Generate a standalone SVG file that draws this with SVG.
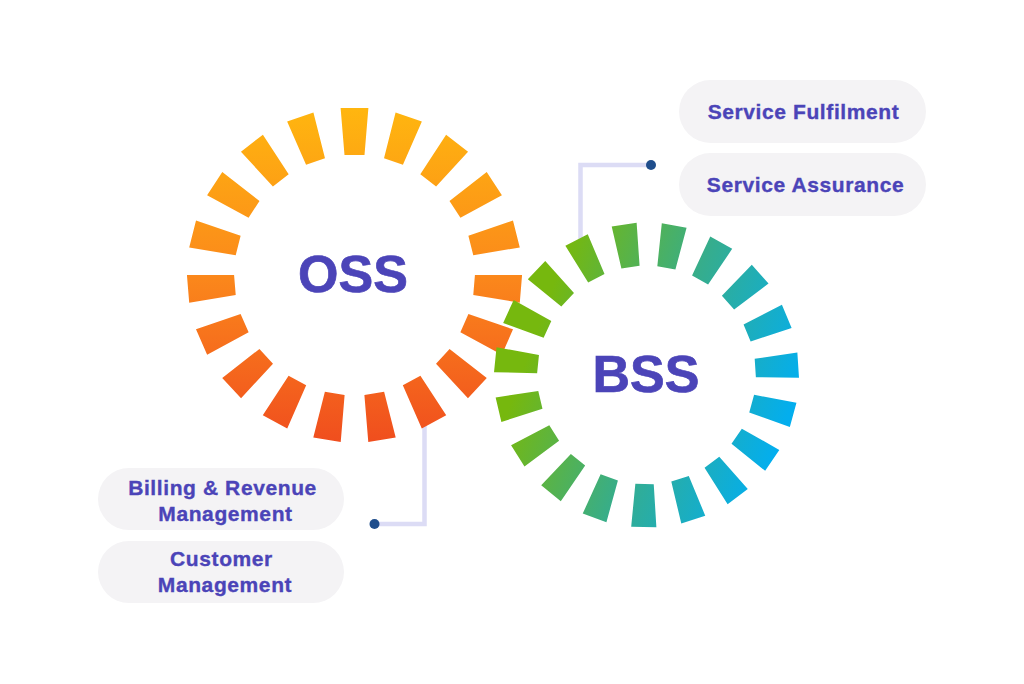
<svg xmlns="http://www.w3.org/2000/svg" width="1024" height="684" viewBox="0 0 1024 684">
  <style>
    .pill{fill:#f4f3f5}
    .lbl{font-family:"Liberation Sans",Arial,sans-serif;font-weight:700;font-size:21px;fill:#4b44b8;stroke:#4b44b8;stroke-width:.35px;text-anchor:middle;letter-spacing:.6px}
    .big{font-family:"Liberation Sans",Arial,sans-serif;font-weight:700;font-size:52px;fill:#4b44b8;stroke:#4b44b8;stroke-width:.7px;text-anchor:middle}
    .wire{fill:none;stroke:#dcdcf5;stroke-width:4.5}
    .dot{fill:#1f4e8c}
  </style>
  <defs>
    <linearGradient id="gOss" gradientUnits="userSpaceOnUse" x1="354" y1="108" x2="354" y2="442">
      <stop offset="0" stop-color="#ffb60f"/>
      <stop offset=".5" stop-color="#fb881b"/>
      <stop offset="1" stop-color="#f04e1e"/>
    </linearGradient>
    <linearGradient id="gBss" gradientUnits="userSpaceOnUse" x1="535" y1="335" x2="785" y2="425">
      <stop offset="0" stop-color="#76b80e"/>
      <stop offset=".5" stop-color="#36ad8c"/>
      <stop offset="1" stop-color="#03aeee"/>
    </linearGradient>
    <polygon id="segO" points="340.6,108 368.4,108 364.5,155 344.5,155"/>
    <polygon id="segB" points="633.900,223 659.100,223 655.700,266 637.300,266"/>
    <clipPath id="cOss">
      <use href="#segO"/>
      <use href="#segO" transform="rotate(18.947 354.5 275)"/>
      <use href="#segO" transform="rotate(37.895 354.5 275)"/>
      <use href="#segO" transform="rotate(56.842 354.5 275)"/>
      <use href="#segO" transform="rotate(75.789 354.5 275)"/>
      <use href="#segO" transform="rotate(94.737 354.5 275)"/>
      <use href="#segO" transform="rotate(113.684 354.5 275)"/>
      <use href="#segO" transform="rotate(132.632 354.5 275)"/>
      <use href="#segO" transform="rotate(151.579 354.5 275)"/>
      <use href="#segO" transform="rotate(170.526 354.5 275)"/>
      <use href="#segO" transform="rotate(189.474 354.5 275)"/>
      <use href="#segO" transform="rotate(208.421 354.5 275)"/>
      <use href="#segO" transform="rotate(227.368 354.5 275)"/>
      <use href="#segO" transform="rotate(246.316 354.5 275)"/>
      <use href="#segO" transform="rotate(265.263 354.5 275)"/>
      <use href="#segO" transform="rotate(284.211 354.5 275)"/>
      <use href="#segO" transform="rotate(303.158 354.5 275)"/>
      <use href="#segO" transform="rotate(322.105 354.5 275)"/>
      <use href="#segO" transform="rotate(341.053 354.5 275)"/>
    </clipPath>
    <clipPath id="cBss">
      <use href="#segB" transform="rotate(10.5 646.5 375)"/>
      <use href="#segB" transform="rotate(29.447 646.5 375)"/>
      <use href="#segB" transform="rotate(48.395 646.5 375)"/>
      <use href="#segB" transform="rotate(67.342 646.5 375)"/>
      <use href="#segB" transform="rotate(86.289 646.5 375)"/>
      <use href="#segB" transform="rotate(105.237 646.5 375)"/>
      <use href="#segB" transform="rotate(124.184 646.5 375)"/>
      <use href="#segB" transform="rotate(143.132 646.5 375)"/>
      <use href="#segB" transform="rotate(162.079 646.5 375)"/>
      <use href="#segB" transform="rotate(181.026 646.5 375)"/>
      <use href="#segB" transform="rotate(199.974 646.5 375)"/>
      <use href="#segB" transform="rotate(218.921 646.5 375)"/>
      <use href="#segB" transform="rotate(237.868 646.5 375)"/>
      <use href="#segB" transform="rotate(256.816 646.5 375)"/>
      <use href="#segB" transform="rotate(275.763 646.5 375)"/>
      <use href="#segB" transform="rotate(294.711 646.5 375)"/>
      <use href="#segB" transform="rotate(313.658 646.5 375)"/>
      <use href="#segB" transform="rotate(332.605 646.5 375)"/>
      <use href="#segB" transform="rotate(351.553 646.5 375)"/>
    </clipPath>
  </defs>
  <rect width="1024" height="684" fill="#fff"/>
  <g id="connectors">
    <path class="wire" d="M424.500 420V524H374"/>
    <path class="wire" d="M580.500 240V165H651"/>
    <circle class="dot" cx="374.500" cy="524" r="5"/>
    <circle class="dot" cx="651" cy="165" r="5"/>
  </g>
  <g id="oss">
    <rect x="180" y="100" width="350" height="350" fill="url(#gOss)" clip-path="url(#cOss)"/>
    <text class="big" x="353" y="292">OSS</text>
  </g>
  <g id="bss">
    <rect x="485" y="215" width="323" height="320" fill="url(#gBss)" clip-path="url(#cBss)"/>
    <text class="big" x="646" y="392">BSS</text>
  </g>
  <g id="service-fulfilment">
    <rect class="pill" x="679" y="80" width="247" height="63" rx="31.500"/>
    <text class="lbl" x="803.5" y="119">Service Fulfilment</text>
  </g>
  <g id="service-assurance">
    <rect class="pill" x="679" y="153" width="247" height="63" rx="31.500"/>
    <text class="lbl" x="805.5" y="191.500">Service Assurance</text>
  </g>
  <g id="billing-revenue">
    <rect class="pill" x="98" y="468" width="246" height="62" rx="31"/>
    <text class="lbl" x="222.500" y="495">Billing &amp; Revenue</text>
    <text class="lbl" x="225.500" y="520.500">Management</text>
  </g>
  <g id="customer-management">
    <rect class="pill" x="98" y="541" width="246" height="62" rx="31"/>
    <text class="lbl" x="221.500" y="566">Customer</text>
    <text class="lbl" x="225" y="591.500">Management</text>
  </g>
</svg>
